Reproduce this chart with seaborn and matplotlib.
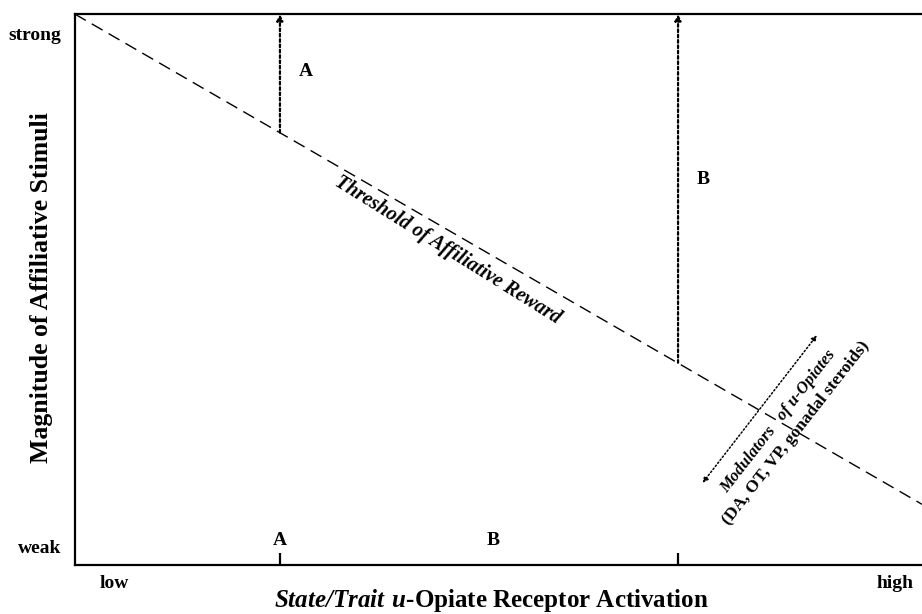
import matplotlib
matplotlib.use("Agg")
import matplotlib.pyplot as plt
import seaborn as sns
import pandas as pd

# Threshold of affiliative reward (dashed diagonal)
threshold_x = [0, 100]
threshold_y = [100, 11]

# Two individuals A and B on the activation axis
people = ["A", "B"]
people_x = [24.2, 71.2]
# where each arrow leaves the threshold line
arrow_base = [78.5, 36.7]
# letter next to each arrow
arrow_label_y = [89.5, 69.9]
# bottom letters
bottom_label_x = [24.2, 49.4]

# Modulators double arrow ends
mod_start = (74.1, 14.9)
mod_end = (87.6, 41.7)

y_ticks = [96.5, 3.4]
y_tick_labels = ["strong", "weak"]

sns.set_style("white")
plt.rcParams["font.family"] = ["Liberation Serif", "DejaVu Serif"]
plt.rcParams["text.color"] = "black"
plt.rcParams["axes.labelcolor"] = "black"
plt.rcParams["ytick.color"] = "black"
plt.rcParams["xtick.color"] = "black"
plt.rcParams["mathtext.fontset"] = "custom"
plt.rcParams["mathtext.rm"] = "Liberation Serif:bold"
plt.rcParams["mathtext.bfit"] = "Liberation Serif:italic:bold"

fig = plt.figure(figsize=(9.22, 6.14), dpi=100)
ax = fig.add_axes([0.0813, 0.080, 1 - 0.0813, 0.897])

df = pd.DataFrame({"x": threshold_x, "y": threshold_y})
sns.lineplot(data=df, x="x", y="y", ax=ax, color="black", lw=1.0,
             linestyle=(0, (9, 5)))

ax.set_xlim(0, 100)
ax.set_ylim(0, 100)

for s in ["top", "left", "bottom"]:
    ax.spines[s].set_linewidth(1.6)
    ax.spines[s].set_color("black")
ax.spines["right"].set_visible(False)

# vertical dotted arrows from threshold to top
for name, x, base, ly in zip(people, people_x, arrow_base, arrow_label_y):
    ax.annotate("", xy=(x, 100), xytext=(x, base),
                arrowprops=dict(arrowstyle="-|>", linestyle=(0, (1.2, 1.2)),
                                lw=1.6, color="black", mutation_scale=9,
                                shrinkA=0, shrinkB=0))
    ax.text(x + 2.2, ly, name, fontsize=14, fontweight="bold",
            ha="left", va="center")

for name, x in zip(people, bottom_label_x):
    ax.text(x, 4.5, name, fontsize=14, fontweight="bold", ha="center", va="center")

# ticks at A and B
ax.set_xticks(people_x)
ax.set_xticklabels(["", ""])
ax.tick_params(axis="x", direction="in", length=8.5, width=1.6, color="black",
               bottom=True)
ax.set_yticks(y_ticks)
ax.set_yticklabels(y_tick_labels, fontsize=14, fontweight="bold")
ax.tick_params(axis="y", length=0, pad=10)

ax.text(4.7, -3.4, "low", fontsize=14, fontweight="bold", ha="center", va="center")
ax.text(96.8, -3.4, "high", fontsize=14, fontweight="bold", ha="center", va="center")

# threshold label
ax.text(44.0, 57.2, "Threshold of Affiliative Reward", fontsize=14.5,
        fontweight="bold", fontstyle="italic", rotation=-32,
        ha="center", va="center", rotation_mode="anchor")

# modulators arrow + text
ax.annotate("", xy=mod_end, xytext=mod_start,
            arrowprops=dict(arrowstyle="<|-|>", linestyle=(0, (1, 1.5)),
                            lw=1.1, color="black", mutation_scale=8,
                            shrinkA=0, shrinkB=0))
ax.text(83.0, 26.0, "Modulators   of u-Opiates", fontsize=12,
        fontweight="bold", fontstyle="italic", rotation=52,
        ha="center", va="center", rotation_mode="anchor")
ax.text(85.1, 24.0, "(DA, OT, VP, gonadal steroids)", fontsize=12.5,
        fontweight="bold", rotation=52,
        ha="center", va="center", rotation_mode="anchor")

ax.set_xlabel(r"$\mathbfit{State/Trait\ u}$-Opiate Receptor Activation",
              fontsize=18, fontweight="bold")
ax.xaxis.label.set_va("center")
ax.xaxis.set_label_coords(0.492, -0.064)
ax.set_ylabel("Magnitude of Affiliative Stimuli", fontsize=18.5, fontweight="bold")
ax.yaxis.label.set_va("center")
ax.yaxis.set_label_coords(-0.039, 0.504)

fig.savefig("out.png", dpi=100)
